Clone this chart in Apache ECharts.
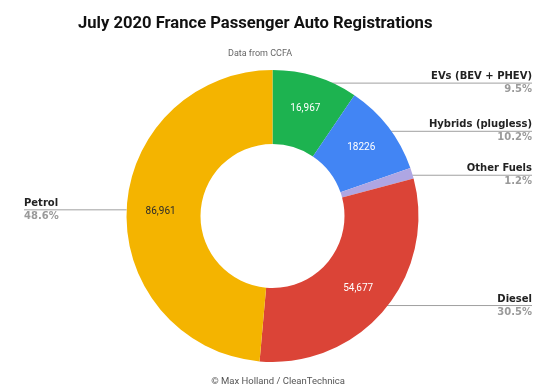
<!DOCTYPE html>
<html>
<head>
<meta charset="utf-8">
<script src="https://cdn.jsdelivr.net/npm/echarts@6/dist/echarts.min.js"></script>
<style>
html,body{margin:0;padding:0;background:#fff;}
#chart{width:556px;height:388px;}
</style>
</head>
<body>
<div id="chart"></div>
<script>
// ---- data ----
const categories = ['EVs (BEV + PHEV)', 'Hybrids (plugless)', 'Other Fuels', 'Diesel', 'Petrol'];
const registrations = [16967, 18226, 2150, 54677, 86961];
const shareLabels = ['9.5%', '10.2%', '1.2%', '30.5%', '48.6%'];
const valueLabels = ['16,967', '18226', '', '54,677', '86,961'];

// ---- styles ----
const sliceColors = ['#1db350', '#4285f4', '#aea6e3', '#db4437', '#f4b400'];
const valueColors = ['#ffffff', '#ffffff', '#ffffff', '#ffffff', '#2a2a2a'];

const chart = echarts.init(document.getElementById('chart'), null, {renderer: 'canvas'});

const colouredData = categories.map((name, i) => ({
  name: name,
  value: registrations[i],
  itemStyle: {color: sliceColors[i]},
  label: {color: valueColors[i]}
}));
const labelData = categories.map((name, i) => ({name: name, value: registrations[i]}));

const CENTER = [272.5, 216];
const RADIUS = [72, 146];

chart.setOption({
  animation: false,
  backgroundColor: '#ffffff',
  title: [
    {
      text: 'July 2020 France Passenger Auto Registrations',
      left: 78, top: 15, padding: 0,
      textStyle: {fontFamily: 'Roboto', fontWeight: 'bold', fontSize: 16.6, color: '#111'}
    },
    {
      text: 'Data from CCFA',
      left: 228, top: 49, padding: 0,
      textStyle: {fontFamily: 'Roboto', fontWeight: 'normal', fontSize: 9, color: '#666'}
    },
    {
      text: '\u00a9 Max Holland / CleanTechnica',
      left: 'center', top: 372,
      textStyle: {fontFamily: 'Roboto', fontWeight: 'normal', fontSize: 9.5, color: '#555'}
    }
  ],
  series: [
    {
      type: 'pie',
      name: 'labels',
      z: 1,
      silent: true,
      center: CENTER,
      radius: RADIUS,
      startAngle: 90,
      clockwise: true,
      itemStyle: {color: 'rgba(0,0,0,0)'},
      emphasis: {disabled: true},
      label: {
        show: true,
        position: 'outside',
        alignTo: 'edge',
        edgeDistance: 24,
        formatter: p => '{n|' + categories[p.dataIndex] + '}\n{p|' + shareLabels[p.dataIndex] + '}',
        rich: {
          n: {fontFamily: 'DejaVu Sans', fontWeight: 'bold', fontSize: 10, color: '#222', lineHeight: 13},
          p: {fontFamily: 'DejaVu Sans', fontWeight: 'bold', fontSize: 10, color: '#9a9a9a', lineHeight: 13}
        }
      },
      labelLine: {show: true, length: -7, length2: 6, lineStyle: {color: '#a0a0a0', width: 1}},
      labelLayout: function (params) {
        const pts = params.labelLinePoints;
        if (!pts) return {};
        const r = params.labelRect;
        const y = r.y + r.height / 2;
        const right = pts[pts.length - 1][0] >= pts[0][0];
        const endX = right ? r.x + r.width : r.x;
        return {labelLinePoints: [[pts[0][0], y], [endX, y]]};
      },
      data: labelData
    },
    {
      type: 'pie',
      name: 'registrations',
      z: 2,
      center: CENTER,
      radius: RADIUS,
      startAngle: 90,
      clockwise: true,
      emphasis: {disabled: true},
      label: {
        show: true,
        position: 'inside',
        formatter: p => valueLabels[p.dataIndex],
        fontFamily: 'Roboto',
        fontSize: 10
      },
      labelLine: {show: false},
      data: colouredData
    }
  ]
});
</script>
</body>
</html>
